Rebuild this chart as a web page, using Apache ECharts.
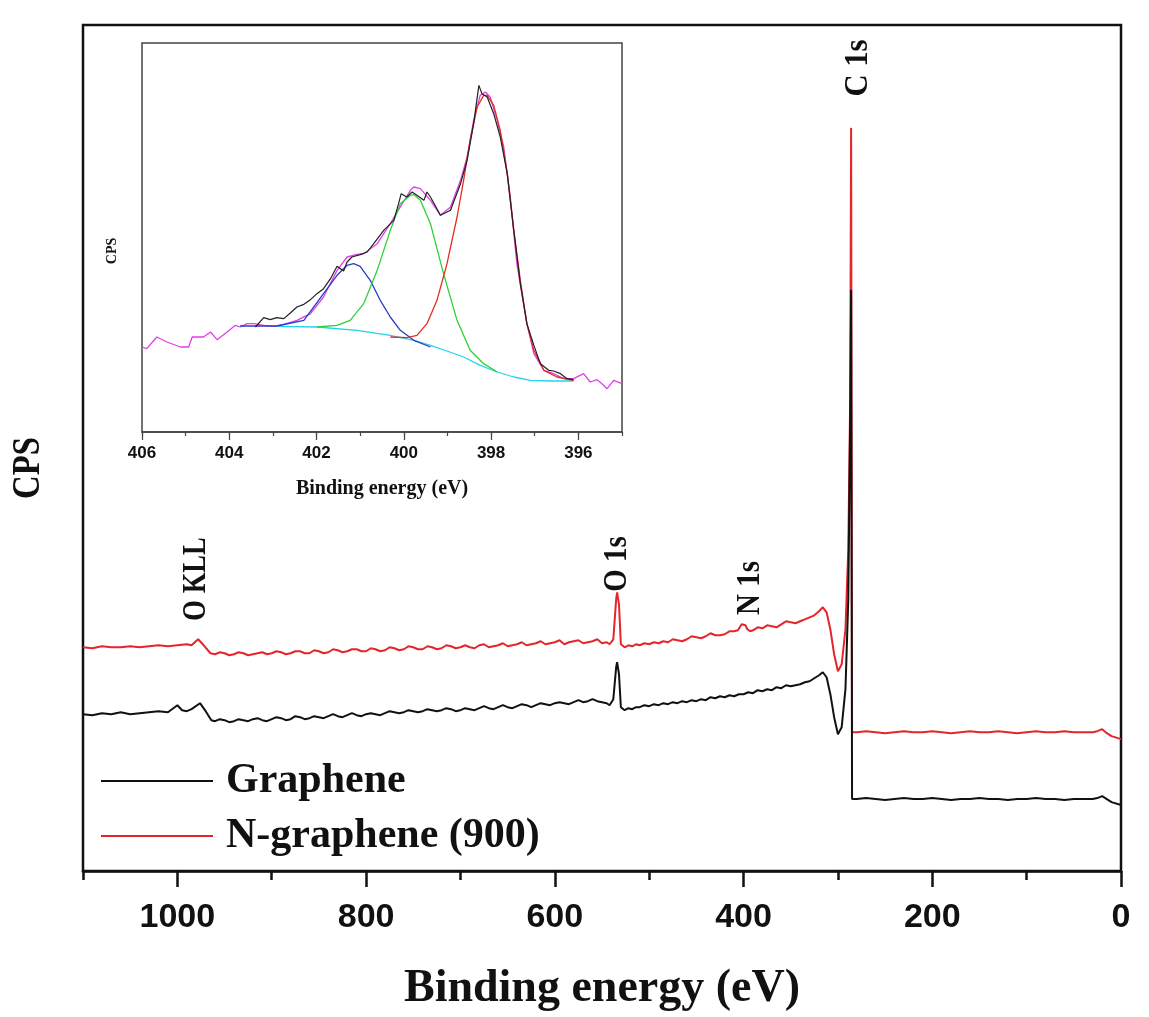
<!DOCTYPE html>
<html><head><meta charset="utf-8">
<script src="https://cdn.jsdelivr.net/npm/echarts@6/dist/echarts.min.js"></script>
<style>html,body{margin:0;padding:0;background:#fff}#c{width:1149px;height:1017px}</style>
</head><body><div id="c"></div>
<script>
// ---------- main survey spectra: [binding energy (eV), CPS (arb.)] ----------
const graphene = [[1100,157],[1090,156],[1080,158],[1070,157],[1060,159],[1050,157],[1040,158],[1030,159],[1020,160],[1010,159],[1000,166],[995,161],[990,160],[985,162],[976,168],[970,160],[964,151],
[960,150],[955,152],[950,151],[945,149],[940,150],[935,152],[930,151],[925,150],[920,152],[915,153],[910,151],[905,150],[900,152],[895,154],[890,153],[885,151],[880,152],[875,155],[870,154],[865,152],[860,153],[855,155],[850,154],[845,153],[840,155],[835,157],[830,155],[825,154],[820,156],[815,158],[810,156],[805,155],[800,157],[795,158],[790,157],[785,156],[780,158],[775,160],[770,159],[765,158],[760,159],[755,161],[750,160],[745,159],[740,160],[735,162],[730,161],[725,160],[720,161],[715,163],[710,162],[705,160],[700,161],[695,163],[690,162],[685,161],[680,163],[675,165],[670,163],[665,162],[660,164],[655,166],[650,164],[645,163],[640,165],[635,167],[630,166],[625,164],[620,166],[615,168],[610,167],[605,166],[600,168],[595,169],[590,168],[585,167],[580,169],[575,171],[570,169],[565,170],[560,172],[555,170],[550,169],[545,168],[542,166],
[538,172],[535,204],[534,209],[532,197],[530,164],
[526,161],[522,163],[518,162],[514,164],[510,164],[505,166],[500,165],[495,167],[490,166],[485,168],[480,167],[475,169],[470,168],[465,170],[460,169],[455,171],[450,170],[445,172],[440,171],[435,174],[430,173],[425,175],[420,174],[415,176],[410,175],[405,177],[400,177],[395,179],[390,178],[385,181],[380,180],[375,182],[370,181],[365,184],[360,183],[355,186],[350,185],[345,186],[340,187],[335,189],[330,190],[325,193],[320,196],
[316,199],[312,194],[308,177],[304,154],[300,137],[296,144],[292,182],[289,272],[287,452],[286,582],[285,72],
[280,72],[270,73],[260,72],[250,71],[240,72],[230,73],[220,72],[210,72],[200,73],[190,72],[180,71],[170,72],[160,72],[150,73],[140,72],[130,72],[120,71],[110,72],[100,72],[90,73],[80,72],[70,72],[60,71],[50,72],[40,72],[30,72],[25,73],[20,75],[15,72],[10,69],[0,66]];
const nGraphene = [[1100,224],[1090,223],[1080,225],[1070,224],[1060,224],[1050,225],[1040,224],[1030,225],[1020,226],[1010,225],[1000,226],[990,227],[985,226],[978,232],[972,226],[965,218],
[960,217],[955,219],[950,218],[945,216],[940,217],[935,219],[930,218],[925,216],[920,217],[915,218],[910,219],[905,217],[900,218],[895,220],[890,219],[885,217],[880,218],[875,220],[870,220],[865,218],[860,218],[855,221],[850,220],[845,218],[840,219],[835,222],[830,221],[825,219],[820,220],[815,222],[810,222],[805,220],[800,220],[795,223],[790,222],[785,220],[780,221],[775,224],[770,223],[765,221],[760,222],[755,225],[750,224],[745,222],[740,222],[735,225],[730,224],[725,222],[720,223],[715,226],[710,225],[705,223],[700,224],[695,226],[690,224],[685,223],[680,226],[675,227],[670,224],[665,225],[660,226],[655,228],[650,225],[645,226],[640,227],[635,229],[630,226],[625,227],[620,228],[615,230],[610,227],[605,228],[600,229],[595,231],[590,227],[585,229],[580,230],[575,231],[570,228],[565,229],[560,230],[555,232],[550,228],[545,229],[542,227],
[538,232],[535,272],[534,279],[532,267],[530,227],
[526,224],[522,226],[518,225],[514,227],[510,226],[505,228],[500,227],[495,229],[490,228],[485,230],[480,229],[475,232],[470,231],[465,230],[460,232],[455,235],[450,234],[445,233],[440,235],[435,238],[430,236],[425,236],[420,237],[415,240],[410,240],[406,241],[404,244],[402,247],[400,249],[398,246],[396,242],[393,240],[390,241],[385,244],[380,243],[375,246],[370,245],[365,244],[360,247],[355,250],[350,249],[345,248],[340,250],[335,252],[330,254],[325,256],[320,260],
[316,264],[312,259],[308,242],[304,217],[300,200],[296,207],[292,242],[289,322],[287,472],[286,744],[285,139],
[280,139],[270,140],[260,139],[250,138],[240,139],[230,140],[220,139],[210,139],[200,140],[190,139],[180,138],[170,139],[160,140],[150,139],[140,139],[130,140],[120,139],[110,138],[100,139],[90,140],[80,139],[70,139],[60,140],[50,139],[40,139],[30,139],[25,140],[20,142],[15,138],[10,135],[0,132]];

// ---------- inset N 1s high-resolution spectrum ----------
const n1sEnvelope = [[406.00,25.5],[405.89,25.0],[405.66,28.5],[405.43,27.0],[405.12,25.5],[404.93,25.5],[404.85,28.5],[404.59,28.5],[404.43,30.0],[404.28,27.7],[404.05,30.0],[403.86,32.0],[403.75,31.5],[403.59,32.5],[403.44,32.5],[403.21,32.0],[402.98,31.7],[402.75,32.3],[402.45,33.5],[402.14,35.5],[401.84,40.5],[401.53,48.5],[401.30,52.5],[401.07,53.3],[400.92,53.5],[400.61,56.5],[400.31,62.5],[400.08,67.5],[399.85,72.5],[399.77,73.5],[399.62,73.0],[399.39,69.5],[399.16,65.0],[398.93,67.5],[398.70,75.5],[398.55,82.5],[398.40,93.5],[398.25,101.0],[398.13,102.0],[398.02,100.5],[397.86,93.5],[397.71,85.5],[397.56,70.5],[397.41,50.5],[397.18,32.5],[397.02,23.5],[396.79,18.5],[396.57,17.5],[396.34,16.0],[396.11,16.0],[395.88,17.5],[395.73,15.0],[395.57,15.7],[395.46,14.5],[395.34,13.0],[395.19,15.5],[395.00,14.5]];
const n1sRaw = [[403.40,31.5],[403.36,31.0],[403.21,34.3],[403.06,33.7],[402.91,34.3],[402.75,34.0],[402.60,35.7],[402.45,37.5],[402.29,38.3],[402.14,39.7],[401.99,41.5],[401.84,43.0],[401.68,46.0],[401.53,49.7],[401.38,48.3],[401.30,51.0],[401.19,52.5],[401.00,53.2],[400.84,54.0],[400.69,56.5],[400.46,60.5],[400.23,63.5],[400.12,68.5],[400.06,71.5],[399.93,70.5],[399.81,72.0],[399.70,71.0],[399.54,69.5],[399.47,72.0],[399.39,70.5],[399.16,65.0],[398.93,66.5],[398.70,74.5],[398.55,81.5],[398.40,92.5],[398.28,104.0],[398.21,101.5],[398.09,100.5],[397.94,95.5],[397.79,88.5],[397.63,77.5],[397.48,60.5],[397.33,44.5],[397.18,32.5],[397.02,26.0],[396.87,20.5],[396.68,18.5],[396.57,18.3],[396.41,17.5],[396.26,16.0],[396.11,15.7]];
const peakGraphitic = [[403.75,31.8],[402.91,31.8],[402.29,33.5],[401.84,41.5],[401.53,47.0],[401.30,50.0],[401.15,50.5],[401.00,49.7],[400.77,45.5],[400.54,39.5],[400.31,34.5],[400.08,30.5],[399.77,27.5],[399.39,25.5]];
const peakPyrrolic = [[401.99,31.5],[401.53,32.0],[401.23,33.5],[400.92,38.5],[400.61,48.5],[400.31,60.5],[400.08,68.5],[399.85,71.0],[399.77,71.2],[399.62,69.5],[399.39,62.5],[399.09,47.5],[398.78,33.5],[398.48,24.5],[398.17,20.5],[397.86,18.0]];
const peakPyridinic = [[400.31,28.5],[399.93,28.3],[399.70,29.0],[399.47,32.5],[399.24,39.5],[399.01,50.5],[398.78,64.5],[398.63,75.5],[398.48,87.5],[398.32,97.5],[398.17,101.0],[398.09,101.0],[397.94,98.0],[397.79,90.5],[397.63,77.5],[397.48,60.5],[397.33,45.5],[397.18,32.5],[397.02,24.5],[396.79,18.5],[396.49,16.5],[396.11,15.5]];
const baseline = [[402.91,31.7],[401.99,31.5],[401.07,30.5],[400.31,29.0],[399.77,27.5],[399.39,26.0],[399.01,24.3],[398.63,22.5],[398.25,20.0],[397.86,18.0],[397.48,16.5],[397.10,15.5],[396.64,15.3],[396.11,15.3]];

// ---------- tick labels & texts ----------
const mainTickLabels = [0, 200, 400, 600, 800, 1000];
const insetTickLabels = [396, 398, 400, 402, 404, 406];
const seriesNames = ['Graphene', 'N-graphene (900)'];
const peakLabels = ['O KLL', 'O 1s', 'N 1s', 'C 1s'];

const SERIF = '"Liberation Serif", "Times New Roman", serif';
const SANS = '"Liberation Sans", Arial, sans-serif';

const chart = echarts.init(document.getElementById('c'));

function rotText(txt, x, y, size, sx) {
  return { type: 'text', x: x, y: y, rotation: Math.PI / 2, scaleX: sx || 1, silent: true,
    style: { text: txt, fontFamily: SERIF, fontWeight: 'bold', fontSize: size, fill: '#111',
      align: 'center', verticalAlign: 'middle', textAlign: 'center', textVerticalAlign: 'middle' } };
}

const lineBase = { type: 'line', showSymbol: false, symbol: 'none', silent: true, animation: false };

chart.setOption({
  animation: false,
  backgroundColor: '#fff',
  grid: [
    { left: 83, top: 25, width: 1038, height: 847, show: true, borderColor: '#111', borderWidth: 2.5, backgroundColor: 'transparent' },
    { left: 142, top: 43, width: 480, height: 389, show: true, borderColor: '#444', borderWidth: 1.5, backgroundColor: '#fff' }
  ],
  xAxis: [
    { gridIndex: 0, type: 'value', position: 'bottom', min: 0, max: 1100, interval: 100, inverse: true,
      axisLine: { onZero: false, lineStyle: { color: '#111', width: 2.5 } },
      axisTick: { length: 9, lineStyle: { color: '#111', width: 2.5 } },
      axisLabel: { customValues: mainTickLabels, formatter: function (v) { return String(v); }, margin: 30, fontSize: 34, fontWeight: 'bold', fontFamily: SANS, color: '#111' },
      splitLine: { show: false },
      name: 'Binding energy (eV)', nameLocation: 'middle', nameGap: 95,
      nameTextStyle: { fontFamily: SERIF, fontWeight: 'bold', fontSize: 46, color: '#111' } },
    { gridIndex: 0, type: 'value', position: 'bottom', min: 0, max: 1100, inverse: true,
      axisLine: { show: false, onZero: false },
      axisTick: { customValues: mainTickLabels, length: 16, lineStyle: { color: '#111', width: 2.5 } },
      axisLabel: { show: false }, splitLine: { show: false } },
    { gridIndex: 1, type: 'value', position: 'bottom', min: 395, max: 406, interval: 1, inverse: true,
      axisLine: { onZero: false, lineStyle: { color: '#444', width: 1.5 } },
      axisTick: { length: 4, lineStyle: { color: '#444', width: 1.2 } },
      axisLabel: { customValues: insetTickLabels, formatter: function (v) { return String(v); }, margin: 13, fontSize: 17, fontWeight: 'bold', fontFamily: SANS, color: '#111' },
      splitLine: { show: false },
      name: 'Binding energy (eV)', nameLocation: 'middle', nameGap: 47,
      nameTextStyle: { fontFamily: SERIF, fontWeight: 'bold', fontSize: 20, color: '#111' } },
    { gridIndex: 1, type: 'value', position: 'bottom', min: 395, max: 406, inverse: true,
      axisLine: { show: false, onZero: false },
      axisTick: { customValues: insetTickLabels, length: 8, lineStyle: { color: '#444', width: 1.2 } },
      axisLabel: { show: false }, splitLine: { show: false } }
  ],
  yAxis: [
    { gridIndex: 0, type: 'value', min: 0, max: 847, show: false },
    { gridIndex: 1, type: 'value', min: 0, max: 116.7, show: false }
  ],
  legend: {
    data: seriesNames, orient: 'vertical', left: 96, top: 755, icon: 'rect',
    itemWidth: 112, itemHeight: 2, itemGap: 13,
    textStyle: { fontFamily: SERIF, fontWeight: 'bold', fontSize: 42, color: '#111', padding: [0, 0, 0, 8] }
  },
  graphic: [
    rotText('CPS', 29, 468, 40, 0.82),
    rotText(peakLabels[0], 196, 579, 34, 0.78),
    rotText(peakLabels[1], 617, 564, 34, 0.85),
    rotText(peakLabels[2], 750, 588, 34, 0.85),
    rotText(peakLabels[3], 858, 68, 34, 0.9),
    rotText('CPS', 112, 251, 14)
  ],
  series: [
    Object.assign({}, lineBase, { name: seriesNames[0], xAxisIndex: 0, yAxisIndex: 0, data: graphene, color: '#111', lineStyle: { color: '#111', width: 2 }, z: 3 }),
    Object.assign({}, lineBase, { name: seriesNames[1], xAxisIndex: 0, yAxisIndex: 0, data: nGraphene, color: '#e3262b', lineStyle: { color: '#e3262b', width: 2 }, z: 2 }),
    Object.assign({}, lineBase, { name: 'envelope', xAxisIndex: 2, yAxisIndex: 1, data: n1sEnvelope, lineStyle: { color: '#e040e8', width: 1.3 }, z: 4 }),
    Object.assign({}, lineBase, { name: 'baseline', xAxisIndex: 2, yAxisIndex: 1, data: baseline, lineStyle: { color: '#22d4ee', width: 1.3 }, z: 4 }),
    Object.assign({}, lineBase, { name: 'graphitic', xAxisIndex: 2, yAxisIndex: 1, data: peakGraphitic, lineStyle: { color: '#2a3cc8', width: 1.3 }, z: 5 }),
    Object.assign({}, lineBase, { name: 'pyrrolic', xAxisIndex: 2, yAxisIndex: 1, data: peakPyrrolic, lineStyle: { color: '#2ed03a', width: 1.3 }, z: 5 }),
    Object.assign({}, lineBase, { name: 'pyridinic', xAxisIndex: 2, yAxisIndex: 1, data: peakPyridinic, lineStyle: { color: '#e82a22', width: 1.3 }, z: 5 }),
    Object.assign({}, lineBase, { name: 'raw', xAxisIndex: 2, yAxisIndex: 1, data: n1sRaw, lineStyle: { color: '#222', width: 1.2 }, z: 6 })
  ]
});
</script></body></html>
